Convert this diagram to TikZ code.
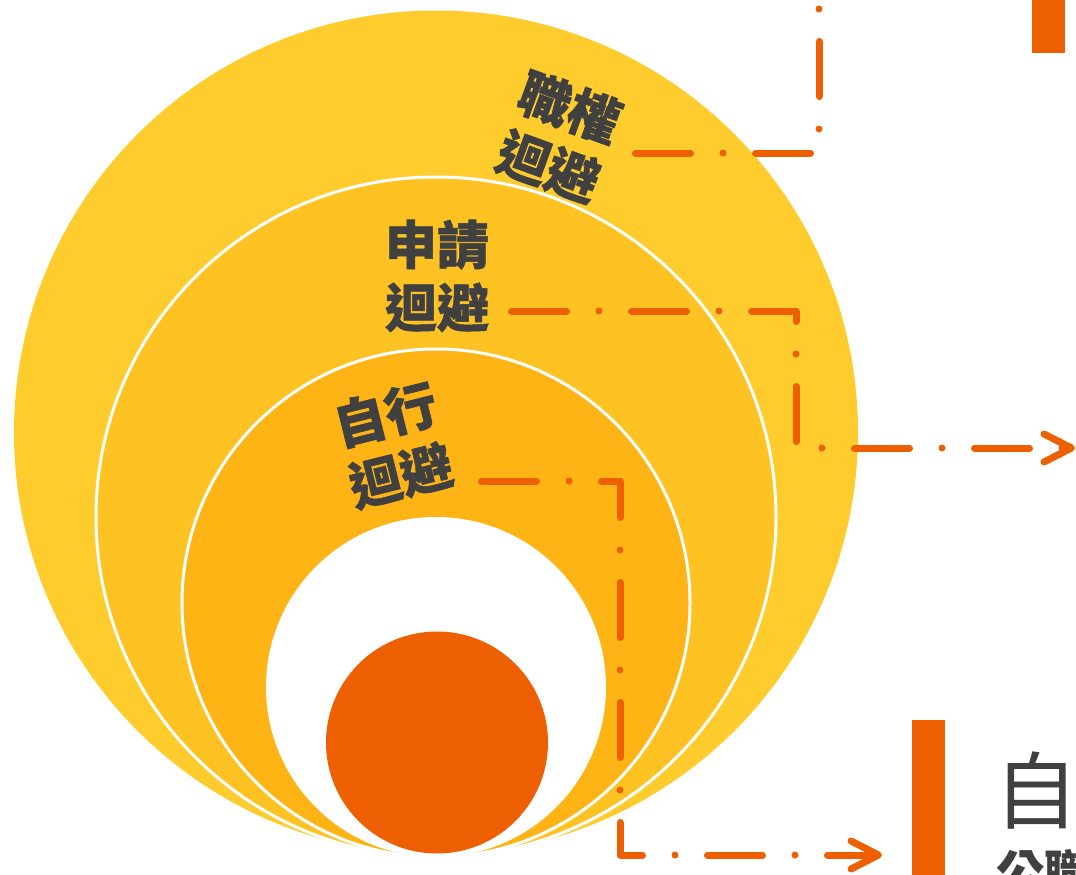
\documentclass[tikz,border=0pt]{standalone}
\usepackage{fontspec}
\usetikzlibrary{arrows.meta}
\newfontfamily\cjk{Noto Sans CJK TC}
\newfontfamily\cjkheavy{Noto Sans CJK TC}[BoldFeatures={FakeBold=1}]
\definecolor{ringout}{RGB}{255,204,46}
\definecolor{ringmid}{RGB}{254,194,34}
\definecolor{ringin}{RGB}{253,180,20}
\definecolor{dorangecolor}{RGB}{237,95,0}
\definecolor{dgraycolor}{RGB}{64,64,64}

\begin{document}
\begin{tikzpicture}[x=1pt,y=-1pt,
    lbl/.style={text=dgraycolor,font=\cjkheavy\bfseries\fontsize{52}{63}\selectfont,align=center,inner sep=0pt},
    guide/.style={dorangecolor,line width=7pt,line cap=round,line join=round,
      dash pattern=on 55pt off 32.5pt on 0pt off 32.5pt},
    barb/.style={-{Straight Barb[length=27.5pt,width=28pt,round]}},
    bar/.style={fill=dorangecolor,minimum width=33pt,inner sep=0pt}]
  \useasboundingbox (0,0) rectangle (1076,875);
  \clip (0,0) rectangle (1076,875);

  % rings:
  \fill[ringout] (436,432.5) circle[radius=422pt];
  \filldraw[ringmid,draw=white,line width=3pt] (436,517) circle[radius=340pt];
  \filldraw[ringin,draw=white,line width=3pt] (436,603) circle[radius=254pt];
  \fill[white] (436,687) circle[radius=170pt];
  \fill[dorangecolor] (437,742.5) circle[radius=111pt];

  % labels:
  \node[lbl,rotate=-20] (jq) at (559,137) {職權\\迴避};
  \node[lbl] (sq) at (437,276) {申請\\迴避};
  \node[lbl,rotate=14] (zx) at (393,445) {自行\\迴避};

  % right side:
  \node[bar,minimum height=153pt] (bartop) at (1048.5,-23.5) {};
  \node[bar,minimum height=200pt] (barbot) at (928.5,820) {};
  \node[text=dgraycolor,font=\cjk\fontsize{84}{84}\selectfont,anchor=base,inner sep=0pt] (ttl) at (1036,822) {自};
  \node[text=dgraycolor,font=\cjk\bfseries\fontsize{48}{48}\selectfont,anchor=base west,inner sep=0pt] (sub) at (996,890) {公職};

  \coordinate (jq-s) at (635.5,153);
  \coordinate (jq-e) at (819,-20);
  \coordinate (sq-s) at (511.5,311);
  \coordinate (sq-k) at (796,448);
  \coordinate (sq-e) at (1075,448);
  \coordinate (zx-s) at (481.5,481);
  \coordinate (zx-k) at (620,855);
  \coordinate (zx-e) at (882,855);

  \begin{scope}[guide]
      % leader lines:
      \draw (jq-s) -| (jq-e);
      \draw[barb] (sq-s) -| (sq-k) -- (sq-e);
      \draw[barb] (zx-s) -| (zx-k) -- (zx-e);
  \end{scope}
\end{tikzpicture}
\end{document}
